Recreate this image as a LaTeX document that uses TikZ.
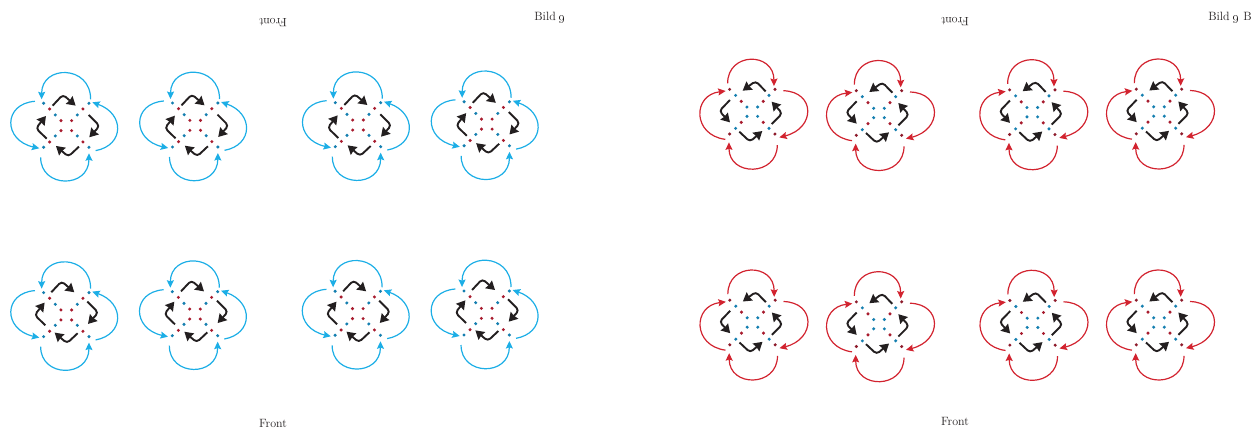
\documentclass[tikz,border=0pt]{standalone}
\usetikzlibrary{arrows.meta}
\definecolor{cyanline}{HTML}{1CAEE6}
\definecolor{redline}{HTML}{D2232F}
\definecolor{dotblue}{HTML}{157FB0}
\definecolor{dotred}{HTML}{A81C2E}
\definecolor{dotdark}{HTML}{8E1C2C}
\definecolor{ink}{HTML}{231F20}
\tikzset{
  x=1pt,y=-1pt,
  dotnode/.style={circle,inner sep=0pt,minimum size=3.4pt,fill=#1},
  ringarc/.style={line width=1.2pt,color=#1,-{Stealth[length=7.5pt,width=7pt,inset=1.2pt]}},
  ringturn/.style={line width=1.9pt,color=ink,rounded corners=3.5pt,-{Stealth[length=8.5pt,width=10pt,inset=0.6pt]}},
  label/.style={font=\fontsize{12}{14}\selectfont,text=ink,inner sep=0pt},
  zoomed/.style={x=0.3333pt,y=-0.3333pt}
}
\newcommand\dotring[5]{%
  \node[dotnode=#5] (#1a) at (-#2,-#3) {};
  \node[dotnode=#5] (#1b) at (#2,-#3) {};
  \node[dotnode=#5] (#1c) at (-#2,#4) {};
  \node[dotnode=#5] (#1d) at (#2,#4) {};
}
\newcommand\ringcurve[6]{% name, start, c1, c2, tip, colour
  \coordinate (#1s) at (#2);
  \coordinate (#1t) at (#5);
  \draw[ringarc=#6] (#1s) .. controls (#3) and (#4) .. (#1t);
}
\newcommand\turn[4]{%
  \coordinate (#1s) at (#2);
  \coordinate (#1m) at (#3);
  \coordinate (#1t) at (#4);
  \draw[ringturn] (#1s) -- (#1m) -- (#1t);
}
% name, cx, cy, shift of the black ring
\newcommand\bluemotif[5]{%
  \begin{scope}[shift={(#2,#3)},zoomed]
    \dotring{#1o}{68}{66}{66}{dotblue}
    \dotring{#1r}{50}{49}{50}{dotred}
    \dotring{#1i}{33}{31}{32}{dotblue}
    \dotring{#1c}{16}{14}{16}{dotred}
    \ringcurve{#1A}{73,-78}{73,-182}{-74,-182}{-74,-78}{cyanline}
    \ringcurve{#1B}{88,76}{175,60}{175,-35}{78,-69}{cyanline}
    \ringcurve{#1C}{-77,96}{-77,190}{68,190}{68,84}{cyanline}
    \ringcurve{#1D}{-94,-72}{-190,-65}{-190,45}{-81,69}{cyanline}
    \begin{scope}[shift={(#4,#5)}]
      \turn{#1E}{-41,-59}{-10,-92}{28,-59}
      \turn{#1F}{67,-31}{100,2}{69,36}
      \turn{#1G}{38,64}{6,94}{-31,62}
      \turn{#1H}{-59,40}{-91,9}{-61,-28}
    \end{scope}
  \end{scope}
}
\newcommand\redmotif[5]{%
  \begin{scope}[shift={(#2,#3)},zoomed]
    \dotring{#1o}{68}{67}{67}{dotdark}
    \dotring{#1r}{50}{49}{50}{dotblue}
    \dotring{#1i}{33}{31}{32}{dotred}
    \dotring{#1c}{16}{14}{14}{dotblue}
    \ringcurve{#1A}{-74,-85}{-74,-180}{65,-180}{65,-77}{redline}
    \ringcurve{#1B}{93,-63}{190,-60}{190,50}{81,77}{redline}
    \ringcurve{#1C}{75,100}{75,195}{-70,195}{-70,92}{redline}
    \ringcurve{#1D}{-81,83}{-180,70}{-180,-50}{-80,-62}{redline}
    \begin{scope}[shift={(#4,#5)}]
      \turn{#1E}{40,-61}{10,-92}{-29,-63}
      \turn{#1F}{-67,-35}{-99,-2}{-67,32}
      \turn{#1G}{-39,60}{-7,90}{30,58}
      \turn{#1H}{58,37}{90,5}{58,-30}
    \end{scope}
  \end{scope}
}
\begin{document}
\begin{tikzpicture}
\useasboundingbox (0,0) rectangle (1254,431);
\bluemotif{p}{66.3}{125.3}{0}{0}
\bluemotif{q}{195.2}{125}{0}{0}
\bluemotif{r}{358}{124.7}{0}{0}
\bluemotif{s}{486.8}{123.8}{-1}{-4}
\bluemotif{t}{66.3}{314.6}{-4}{-8}
\bluemotif{u}{195}{313.7}{-1}{-8}
\bluemotif{v}{357.8}{313.3}{-3}{-7}
\bluemotif{w}{486.7}{313}{-3}{-10}
\redmotif{a}{752.3}{111.7}{0}{0}
\redmotif{b}{879}{113}{0}{0}
\redmotif{c}{1032.3}{112.2}{0}{0}
\redmotif{d}{1159}{111.5}{0}{0}
\redmotif{e}{752.5}{322.5}{0}{0}
\redmotif{f}{879}{324.2}{0}{0}
\redmotif{g}{1032.5}{322.8}{0}{0}
\redmotif{h}{1159}{322.5}{0}{0}
\node[label,rotate=180] (fronttl) at (273,23) {Front};
\node[label] (bild) at (550,18) {Bild \oldstylenums{9}};
\node[label,rotate=180] (fronttr) at (955,22) {Front};
\node[label] (bildb) at (1230,18) {Bild \oldstylenums{9} B};
\node[label] (frontbl) at (273,423) {Front};
\node[label] (frontbr) at (955,421) {Front};
\end{tikzpicture}
\end{document}
